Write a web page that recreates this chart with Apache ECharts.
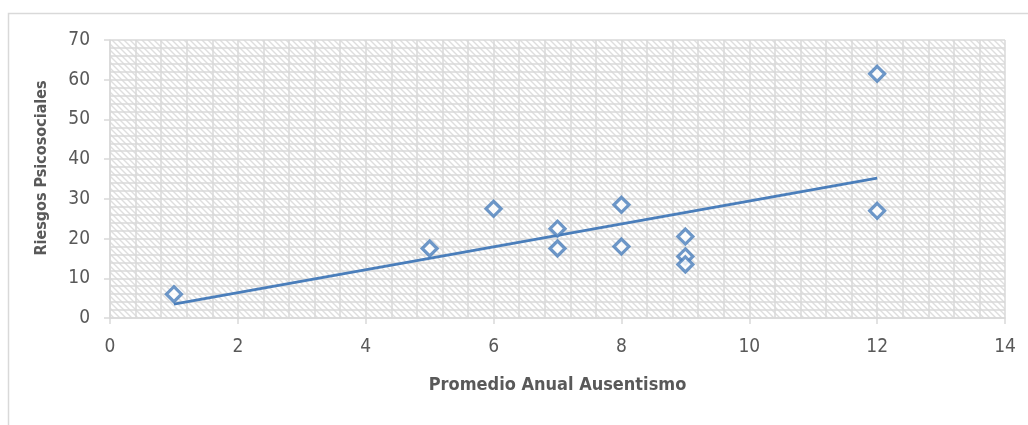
<!DOCTYPE html>
<html><head><meta charset="utf-8">
<script src="https://cdn.jsdelivr.net/npm/echarts@6/dist/echarts.min.js"></script>
<style>html,body{margin:0;padding:0;background:#fff}#c{width:1028px;height:425px}</style>
</head><body><div id="c"></div>
<script>
var xValues = [1, 5, 6, 7, 7, 8, 8, 9, 9, 9, 12, 12];
var yValues = [6, 17.5, 27.5, 22.5, 17.5, 28.5, 18, 20.5, 15.5, 13.5, 61.5, 27];
var xTicks = [0, 2, 4, 6, 8, 10, 12, 14];
var yTicks = [0, 10, 20, 30, 40, 50, 60, 70];
var xName = 'Promedio Anual Ausentismo';
var yName = 'Riesgos Psicosociales';

var points = xValues.map(function (x, i) { return [x, yValues[i]]; });
// linear least-squares trendline from the data
var n = xValues.length, mx = 0, my = 0;
xValues.forEach(function (x, i) { mx += x; my += yValues[i]; });
mx /= n; my /= n;
var sxx = 0, sxy = 0;
xValues.forEach(function (x, i) { sxx += (x - mx) * (x - mx); sxy += (x - mx) * (yValues[i] - my); });
var slope = sxy / sxx, icpt = my - slope * mx;
var xmin = Math.min.apply(null, xValues), xmax = Math.max.apply(null, xValues);
var trend = [[xmin, icpt + slope * xmin], [xmax, icpt + slope * xmax]];

// hatch pattern
var pc = document.createElement('canvas');
pc.width = 6; pc.height = 6;
var g = pc.getContext('2d');
g.fillStyle = '#ffffff'; g.fillRect(0, 0, 6, 6);
g.strokeStyle = '#dedede'; g.lineWidth = 1.4;
g.beginPath();
g.moveTo(0, 0); g.lineTo(6, 6);
g.moveTo(-3, 3); g.lineTo(3, 9);
g.moveTo(3, -3); g.lineTo(9, 3);
g.stroke();

var chart = echarts.init(document.getElementById('c'));
var font = '"Liberation Sans Narrow", "DejaVu Sans Condensed", "Open Sans", sans-serif';
chart.setOption({
  animation: false,
  graphic: [{
    type: 'rect', silent: true, z: -10,
    shape: { x: 8.5, y: 13.5, width: 1030, height: 430 },
    style: { fill: 'none', stroke: '#d9d9d9', lineWidth: 1.5 }
  }],
  grid: {
    left: 110, right: 23, top: 40, bottom: 107,
    show: true, borderWidth: 0,
    backgroundColor: { image: pc, repeat: 'repeat' }
  },
  xAxis: {
    type: 'value', min: 0, max: 14, interval: 2,
    name: xName, nameLocation: 'middle', nameGap: 58,
    nameTextStyle: { color: '#595959', fontSize: 18, fontWeight: 'bold', fontFamily: font },
    axisLine: { show: true, lineStyle: { color: '#d9d9d9', width: 1.5 } },
    axisTick: { show: true, length: 6, lineStyle: { color: '#d9d9d9', width: 1.5 } },
    axisLabel: { color: '#595959', fontSize: 19, fontFamily: font, margin: 20 },
    splitLine: { show: true, lineStyle: { color: '#d9d9d9', width: 1.5 } },
    minorTick: { show: false, splitNumber: 5 },
    minorSplitLine: { show: true, lineStyle: { color: '#d9d9d9', width: 1.5 } }
  },
  yAxis: {
    type: 'value', min: 0, max: 70, interval: 10,
    name: yName, nameLocation: 'middle', nameGap: 60, nameRotate: 90,
    nameTextStyle: { color: '#595959', fontSize: 16, fontWeight: 'bold', fontFamily: font, padding: [0, 0, 0, 22] },
    axisLine: { show: true, lineStyle: { color: '#d9d9d9', width: 1.5 } },
    axisTick: { show: true, length: 6, lineStyle: { color: '#d9d9d9', width: 1.5 } },
    axisLabel: { color: '#595959', fontSize: 19, fontFamily: font, margin: 20 },
    splitLine: { show: true, lineStyle: { color: '#d9d9d9', width: 1.5 } },
    minorTick: { show: false, splitNumber: 5 },
    minorSplitLine: { show: true, lineStyle: { color: '#d9d9d9', width: 1.5 } }
  },
  series: [{
    type: 'line', data: trend, showSymbol: false, symbol: 'none',
    lineStyle: { color: '#4a7ebb', width: 2.8 }, z: 2
  }, {
    type: 'scatter', data: points, symbol: 'diamond', symbolSize: 15,
    itemStyle: { color: '#ffffff', borderColor: '#4a7ebb', borderWidth: 3.2 }, z: 3
  }]
});
</script></body></html>
